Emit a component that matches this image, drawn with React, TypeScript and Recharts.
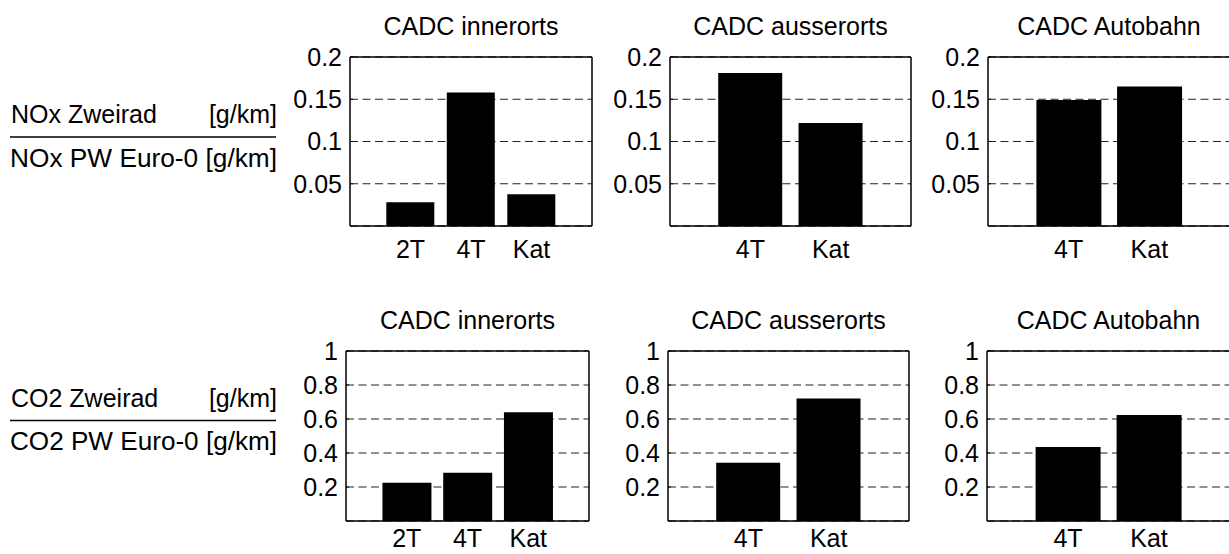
import React from 'react';
import { BarChart, Bar, XAxis, YAxis, CartesianGrid, ReferenceArea } from 'recharts';

// Categories
const vehiclesAll = ['2T', '4T', 'Kat'];
const vehiclesNo2T = ['4T', 'Kat'];
const cycleTitles = ['CADC innerorts', 'CADC ausserorts', 'CADC Autobahn'];

// NOx ratio (two-wheeler / Euro-0 car)
const noxInnerorts = [0.028, 0.158, 0.0375];
const noxAusserorts = [0.181, 0.122];
const noxAutobahn = [0.149, 0.165];

// CO2 ratio (two-wheeler / Euro-0 car)
const co2Innerorts = [0.225, 0.284, 0.64];
const co2Ausserorts = [0.342, 0.72];
const co2Autobahn = [0.436, 0.624];

// Y axis ticks
const noxTicks = [0.05, 0.1, 0.15, 0.2];
const co2Ticks = [0.2, 0.4, 0.6, 0.8, 1];

// Row labels
const noxNumerator = 'NOx Zweirad';
const noxDenominator = 'NOx PW Euro-0 [g/km]';
const co2Numerator = 'CO2 Zweirad';
const co2Denominator = 'CO2 PW Euro-0 [g/km]';
const unitLabel = '[g/km]';

const FONT = '"Liberation Sans", Arial, Helvetica, sans-serif';
const FS = 25;

type PanelProps = {
  categories: string[];
  values: number[];
  ticks: number[];
  yMax: number;
  left: number;
  top: number;
  width: number;
  height: number;
  labelGap: number;
};

const ML = 80;
const MR = 4;
const MT = 30;
const MB = 50;

function Panel({ categories, values, ticks, yMax, left, top, width, height, labelGap }: PanelProps) {
  // bars sit at x = 1..n on an axis running from 0 to n + 1
  const data = categories.map((name, i) => ({ pos: i + 1, value: values[i] }));
  const xMax = categories.length + 1;
  const xTicks = categories.map((_, i) => i + 1);
  const xLabel = (v: number) => categories[v - 1] ?? '';
  const axisStroke = { stroke: '#000', strokeWidth: 1 };
  return (
    <div style={{ position: 'absolute', left: left - ML, top: top - MT - 1 }}>
      <BarChart
        width={width + ML + MR + 1}
        height={height + MT + 1 + MB}
        data={data}
        margin={{ top: MT, right: MR, bottom: 0, left: 0 }}
        barCategoryGap="10%"
      >
        <CartesianGrid
          xAxisId="b"
          yAxisId="l"
          vertical={false}
          stroke="#222"
          strokeDasharray="8 4.5"
        />
        <Bar dataKey="value" xAxisId="b" yAxisId="l" fill="#000" isAnimationActive={false} />
        <XAxis
          xAxisId="b"
          dataKey="pos"
          type="number"
          orientation="bottom"
          domain={[0, xMax]}
          ticks={xTicks}
          tickFormatter={xLabel}
          height={MB}
          interval={0}
          tickSize={-3}
          tickMargin={labelGap}
          axisLine={axisStroke}
          tickLine={axisStroke}
          tick={{ fill: '#000', fontSize: FS }}
        />
        <XAxis
          xAxisId="t"
          dataKey="pos"
          type="number"
          orientation="top"
          domain={[0, xMax]}
          ticks={xTicks}
          height={1}
          interval={0}
          tickSize={-3}
          axisLine={axisStroke}
          tickLine={axisStroke}
          tick={false}
        />
        <YAxis
          yAxisId="l"
          type="number"
          orientation="left"
          width={ML}
          domain={[0, yMax]}
          ticks={ticks}
          interval={0}
          tickSize={-3}
          tickMargin={11}
          axisLine={axisStroke}
          tickLine={axisStroke}
          tick={{ fill: '#000', fontSize: FS }}
        />
        <YAxis
          yAxisId="r"
          type="number"
          orientation="right"
          width={1}
          domain={[0, yMax]}
          ticks={ticks}
          interval={0}
          tickSize={-3}
          axisLine={axisStroke}
          tickLine={axisStroke}
          tick={false}
        />
        <ReferenceArea
          xAxisId="b"
          yAxisId="l"
          x1={0}
          x2={xMax}
          y1={0}
          y2={yMax}
          fill="none"
          fillOpacity={0}
          stroke="#000"
          strokeWidth={1}
          ifOverflow="visible"
        />
      </BarChart>
    </div>
  );
}

// Panel layout: [left, width] per column, [top, height] per row
const row1 = { top: 57, height: 169, labelGap: 17 };
const row2 = { top: 351, height: 170, labelGap: 11 };
const cols1 = [
  { left: 350, width: 242 },
  { left: 670, width: 241 },
  { left: 988, width: 242 },
];
const cols2 = [
  { left: 346, width: 243 },
  { left: 668, width: 241 },
  { left: 987, width: 243 },
];

function RowLabel({ numerator, denominator, y }: { numerator: string; denominator: string; y: number }) {
  return (
    <g fontFamily={FONT} fontSize={FS} fill="#000">
      <text x={11} y={y}>{numerator}</text>
      <text x={277} y={y} textAnchor="end">{unitLabel}</text>
      <line x1={10} x2={276} y1={y + 14} y2={y + 14} stroke="#000" strokeWidth={1.5} />
      <text x={10} y={y + 43.5} textLength={267} lengthAdjust="spacingAndGlyphs">{denominator}</text>
    </g>
  );
}

export default function App() {
  const noxSets = [noxInnerorts, noxAusserorts, noxAutobahn];
  const co2Sets = [co2Innerorts, co2Ausserorts, co2Autobahn];
  const catsFor = (i: number) => (i === 0 ? vehiclesAll : vehiclesNo2T);
  return (
    <div
      style={{
        position: 'absolute',
        left: 0,
        top: 0,
        width: 1229,
        height: 554,
        overflow: 'hidden',
        background: '#fff',
        fontFamily: FONT,
      }}
    >
      {noxSets.map((vals, i) => (
        <Panel
          key={'nox' + i}
          categories={catsFor(i)}
          values={vals}
          ticks={noxTicks}
          yMax={0.2}
          left={cols1[i].left}
          top={row1.top}
          width={cols1[i].width}
          height={row1.height}
          labelGap={row1.labelGap}
        />
      ))}
      {co2Sets.map((vals, i) => (
        <Panel
          key={'co2' + i}
          categories={catsFor(i)}
          values={vals}
          ticks={co2Ticks}
          yMax={1}
          left={cols2[i].left}
          top={row2.top}
          width={cols2[i].width}
          height={row2.height}
          labelGap={row2.labelGap}
        />
      ))}
      <svg
        width={1229}
        height={554}
        style={{ position: 'absolute', left: 0, top: 0, pointerEvents: 'none' }}
      >
        {cycleTitles.map((t, i) => (
          <text
            key={'t1' + i}
            x={cols1[i].left + cols1[i].width / 2}
            y={row1.top - 22}
            textAnchor="middle"
            fontFamily={FONT}
            fontSize={FS}
            fill="#000"
          >
            {t}
          </text>
        ))}
        {cycleTitles.map((t, i) => (
          <text
            key={'t2' + i}
            x={cols2[i].left + cols2[i].width / 2}
            y={row2.top - 22}
            textAnchor="middle"
            fontFamily={FONT}
            fontSize={FS}
            fill="#000"
          >
            {t}
          </text>
        ))}
        <RowLabel numerator={noxNumerator} denominator={noxDenominator} y={123} />
        <RowLabel numerator={co2Numerator} denominator={co2Denominator} y={406.5} />
      </svg>
    </div>
  );
}
